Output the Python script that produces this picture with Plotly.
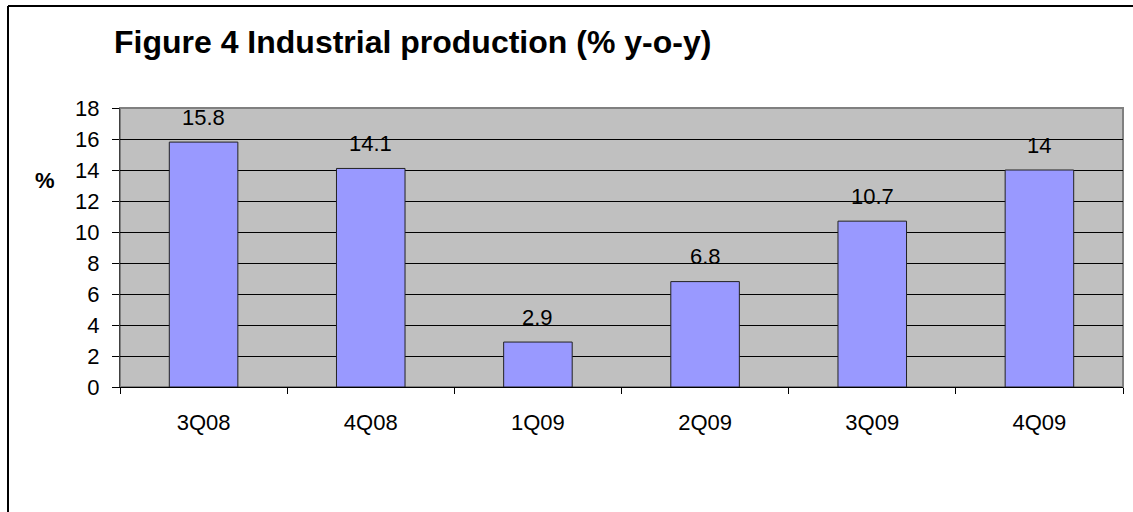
import plotly.graph_objects as go

quarters = ["3Q08", "4Q08", "1Q09", "2Q09", "3Q09", "4Q09"]
growth = [15.8, 14.1, 2.9, 6.8, 10.7, 14]
labels = ["15.8", "14.1", "2.9", "6.8", "10.7", "14"]

W, H = 1133, 512
L, R, T, B = 120, 10, 108, 125
font = "Liberation Sans, Arial, sans-serif"

fig = go.Figure()
fig.add_trace(go.Bar(x=quarters, y=growth, width=0.41,
                     marker=dict(color="#9999FF", line=dict(color="#222222", width=1)),
                     showlegend=False, hoverinfo="x+y"))

# value labels above each bar
for q, v, t in zip(quarters, growth, labels):
    fig.add_annotation(x=q, y=v, text=t, showarrow=False, yshift=25,
                       font=dict(size=22, color="black", family=font))

pw = (W - L - R)
ph = (H - T - B)

# outer frame (top and left edges visible)
fig.add_shape(type="line", xref="paper", yref="paper",
              x0=(8 - L) / pw, x1=(W - L) / pw, y0=1 + (T - 6) / ph, y1=1 + (T - 6) / ph,
              line=dict(color="black", width=2))
fig.add_shape(type="line", xref="paper", yref="paper",
              x0=(8 - L) / pw, x1=(8 - L) / pw, y0=-B / ph, y1=1 + (T - 6) / ph,
              line=dict(color="black", width=2))
# plot area border
fig.add_shape(type="rect", xref="paper", yref="paper", x0=0, x1=1, y0=0, y1=1,
              line=dict(color="#808080", width=2), layer="below")

fig.add_annotation(xref="paper", yref="paper", x=(112 - L) / pw, y=1 + (T - 42) / ph,
                   xanchor="left", yanchor="middle", showarrow=False,
                   text="<b>Figure 4 Industrial production (% y-o-y)</b>",
                   font=dict(size=32, color="black", family=font))
fig.add_annotation(xref="paper", yref="paper", x=(45 - L) / pw, y=(H - B - 180) / ph,
                   xanchor="center", yanchor="middle", showarrow=False,
                   text="<b>%</b>", font=dict(size=22, color="black", family=font))

fig.update_layout(width=W, height=H, margin=dict(l=L, r=R, t=T, b=B),
                  paper_bgcolor="white", plot_bgcolor="#C0C0C0",
                  font=dict(family=font, size=22, color="black"), bargap=0.59)
fig.update_yaxes(range=[0, 18], dtick=2, showgrid=True, gridcolor="black", gridwidth=1,
                 showline=True, linecolor="#404040", linewidth=1,
                 ticks="outside", ticklen=7, tickcolor="black",
                 tickfont=dict(size=22), zeroline=False, ticklabelstandoff=8)
fig.update_xaxes(showgrid=False, showline=True, linecolor="black", linewidth=1,
                 ticks="outside", ticklen=6, tickcolor="black", tickson="boundaries",
                 tickfont=dict(size=22), ticklabelstandoff=16)

fig.write_html("out.html", config={"displayModeBar": False},
               post_script="document.body.style.margin='0';")
